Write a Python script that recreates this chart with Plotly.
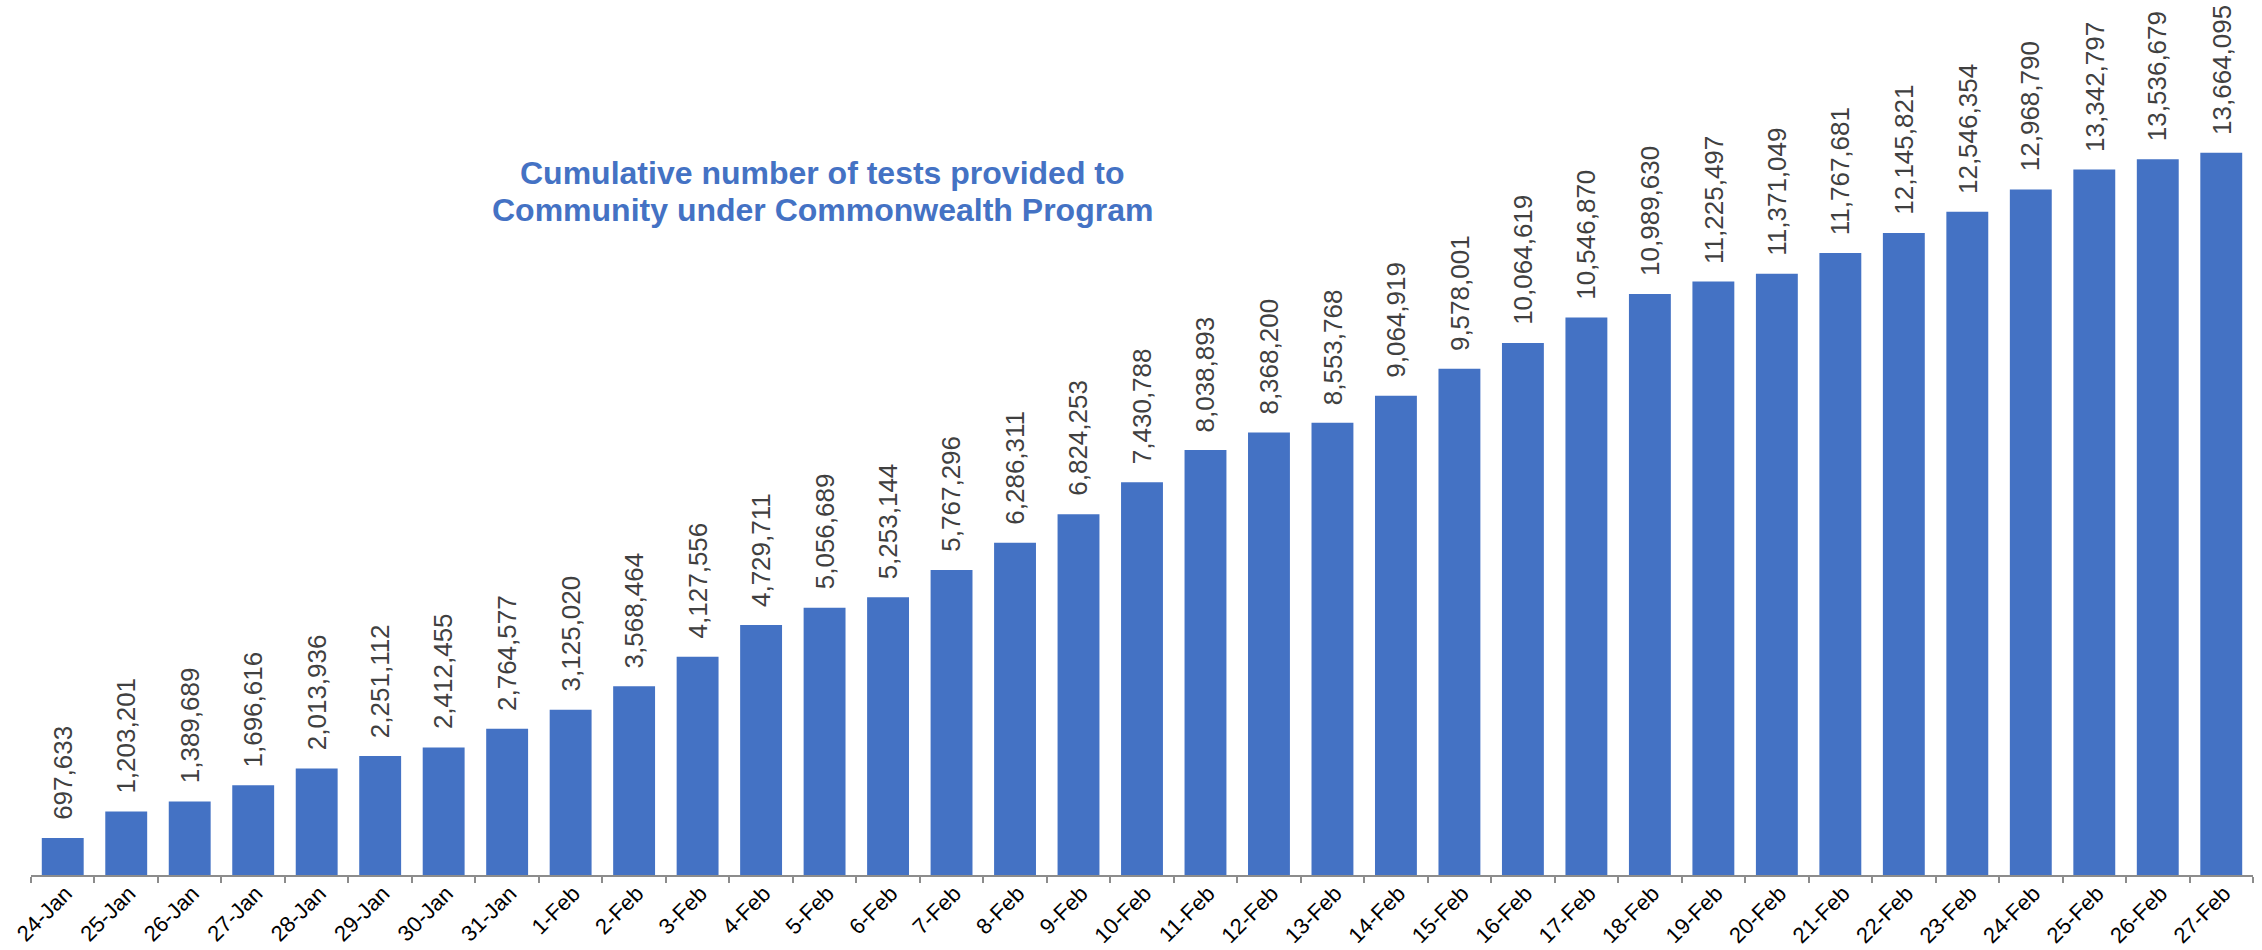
import plotly.graph_objects as go

dates = ["24-Jan", "25-Jan", "26-Jan", "27-Jan", "28-Jan", "29-Jan", "30-Jan", "31-Jan",
         "1-Feb", "2-Feb", "3-Feb", "4-Feb", "5-Feb", "6-Feb", "7-Feb", "8-Feb", "9-Feb",
         "10-Feb", "11-Feb", "12-Feb", "13-Feb", "14-Feb", "15-Feb", "16-Feb", "17-Feb",
         "18-Feb", "19-Feb", "20-Feb", "21-Feb", "22-Feb", "23-Feb", "24-Feb", "25-Feb",
         "26-Feb", "27-Feb"]
tests = [697633, 1203201, 1389689, 1696616, 2013936, 2251112, 2412455, 2764577,
         3125020, 3568464, 4127556, 4729711, 5056689, 5253144, 5767296, 6286311, 6824253,
         7430788, 8038893, 8368200, 8553768, 9064919, 9578001, 10064619, 10546870,
         10989630, 11225497, 11371049, 11767681, 12145821, 12546354, 12968790, 13342797,
         13536679, 13664095]

title_lines = ["Cumulative number of tests provided to",
               "Community under Commonwealth Program"]

BLUE = "#4472C4"
FONT = "Liberation Sans, Arial, sans-serif"

W, H = 2262, 950
ML, MR, MT, MB = 31, 9, 8, 75
plot_h = H - MT - MB
plot_w = W - ML - MR

fig = go.Figure()
fig.add_trace(go.Bar(
    x=dates, y=tests,
    marker=dict(color=BLUE, line=dict(width=0)),
    hoverinfo="x+y",
))

annotations = []
for d, v in zip(dates, tests):
    annotations.append(dict(
        x=d, y=v, xref="x", yref="y",
        text=f"{v:,}", showarrow=False, textangle=-90,
        xanchor="center", yanchor="bottom", yshift=16,
        font=dict(family=FONT, size=26, color="#404040"),
    ))

def px_to_paper_x(px):
    return (px - ML) / plot_w

def px_to_paper_y(py):
    return (H - MB - py) / plot_h

for line, py in zip(title_lines, [173, 210]):
    annotations.append(dict(
        x=px_to_paper_x(822), y=px_to_paper_y(py), xref="paper", yref="paper",
        text=f"<b>{line}</b>", showarrow=False,
        xanchor="center", yanchor="middle",
        font=dict(family=FONT, size=32, color=BLUE),
    ))

fig.update_layout(
    width=W, height=H,
    margin=dict(l=ML, r=MR, t=MT, b=MB, autoexpand=False),
    paper_bgcolor="white", plot_bgcolor="white",
    bargap=0.34,
    showlegend=False,
    annotations=annotations,
    xaxis=dict(
        type="category",
        range=[-0.5, len(dates) - 0.5],
        automargin=False,
        showline=True, linecolor="#8c8c8c", linewidth=2,
        ticks="outside", tickson="boundaries", ticklen=6, tickwidth=2, tickcolor="#8c8c8c",
        tickangle=-45,
        ticklabelstandoff=-5, ticklabelshift=3,
        tickfont=dict(family=FONT, size=22, color="#000000"),
        showgrid=False, zeroline=False,
    ),
    yaxis=dict(
        range=[0, 16.4e6],
        automargin=False,
        visible=False, showgrid=False, zeroline=False,
    ),
)

fig.write_html(
    "out.html",
    config={"displayModeBar": False},
    post_script="document.body.style.margin='0';document.body.style.overflow='hidden';",
)
